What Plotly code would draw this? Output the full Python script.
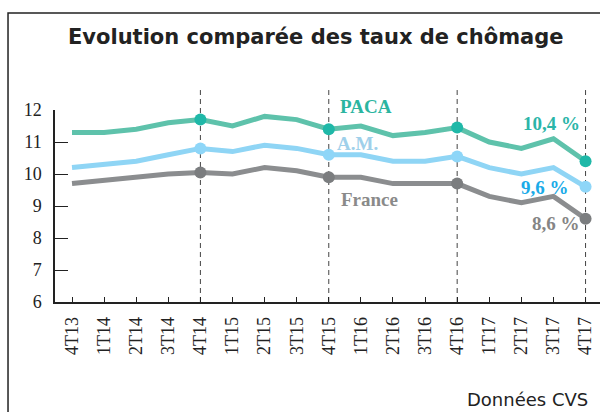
import plotly.graph_objects as go

quarters = ["4T13", "1T14", "2T14", "3T14", "4T14", "1T15", "2T15", "3T15", "4T15",
            "1T16", "2T16", "3T16", "4T16", "1T17", "2T17", "3T17", "4T17"]
paca = [11.3, 11.3, 11.4, 11.6, 11.7, 11.5, 11.8, 11.7, 11.4, 11.5, 11.2, 11.3, 11.45, 11.0, 10.8, 11.1, 10.4]
am = [10.2, 10.3, 10.4, 10.6, 10.8, 10.7, 10.9, 10.8, 10.6, 10.6, 10.4, 10.4, 10.55, 10.2, 10.0, 10.2, 9.6]
france = [9.7, 9.8, 9.9, 10.0, 10.05, 10.0, 10.2, 10.1, 9.9, 9.9, 9.7, 9.7, 9.7, 9.3, 9.1, 9.3, 8.6]
marked = [4, 8, 12, 16]
y_ticks = [6, 7, 8, 9, 10, 11, 12]

x = list(range(len(quarters)))

series = [
    ("PACA", paca, "#5ec2ab", "#1fb8a8"),
    ("A.M.", am, "#8fd5f5", "#8ed6f8"),
    ("France", france, "#8b8d8f", "#7b7d7f"),
]

fig = go.Figure()
for name, vals, lc, mc in series:
    fig.add_trace(go.Scatter(x=x, y=vals, mode="lines", line=dict(color=lc, width=5),
                             showlegend=False, hoverinfo="skip"))
    fig.add_trace(go.Scatter(x=[x[i] for i in marked], y=[vals[i] for i in marked], mode="markers",
                             marker=dict(color=mc, size=12), showlegend=False, cliponaxis=False))

shapes = []
for i in marked:
    shapes.append(dict(type="line", xref="x", yref="paper", x0=x[i], x1=x[i], y0=0, y1=1.104,
                       line=dict(color="#444444", width=1, dash="5px,4px"), layer="below"))
shapes.append(dict(type="rect", xref="paper", yref="paper", x0=-0.0862, x1=1.2, y0=-1.0, y1=1.505,
                   line=dict(color="#222222", width=1.5)))

serif_b = "Liberation Serif"


def label(text, xv, yv, color, xref="x", family=serif_b, size=19, xanchor="center"):
    return dict(text=text, xref=xref, yref="paper", x=xv, y=yv, xanchor=xanchor, yanchor="middle",
                showarrow=False, font=dict(family=family, size=size, color=color))


annotations = [
    label("<b>Evolution comparée des taux de chômage</b>", 0.478, 1.378, "#222222",
          xref="paper", family="DejaVu Sans", size=21),
    label("Données CVS", 0.982, -0.508, "#222222", xref="paper", family="DejaVu Sans", size=18,
          xanchor="right"),
    label("<b>PACA</b>", 9.17, 1.016, "#2bb5a0"),
    label("<b>A.M.</b>", 8.89, 0.828, "#9fd0ea"),
    label("<b>France</b>", 9.27, 0.536, "#8a8a8a"),
    label("<b>10,4 %</b>", 14.94, 0.932, "#2bb5a8"),
    label("<b>9,6 %</b>", 14.74, 0.594, "#1aabe8"),
    label("<b>8,6 %</b>", 15.08, 0.411, "#858585"),
]

fig.update_layout(
    width=600, height=412,
    margin=dict(l=55, r=0, t=110, b=110),
    paper_bgcolor="white", plot_bgcolor="white",
    shapes=shapes, annotations=annotations,
    xaxis=dict(range=[-0.53, 16.45], tickvals=x, ticktext=quarters, tickangle=-90,
               showline=True, linecolor="#222222", linewidth=1.5, ticks="inside", ticklen=5,
               tickcolor="#222222", showgrid=False, zeroline=False, ticklabelstandoff=6,
               tickfont=dict(family="Liberation Serif", size=18, color="#222222")),
    yaxis=dict(range=[6, 12], tickvals=y_ticks, showline=True, linecolor="#222222", linewidth=1.5,
               ticks="inside", ticklen=13, tickcolor="#222222", showgrid=False, zeroline=False,
               ticklabelstandoff=8,
               tickfont=dict(family="Liberation Serif", size=18, color="#222222")),
)

fig.write_html("out.html", config={"displayModeBar": False},
               post_script="document.body.style.margin='0';")
